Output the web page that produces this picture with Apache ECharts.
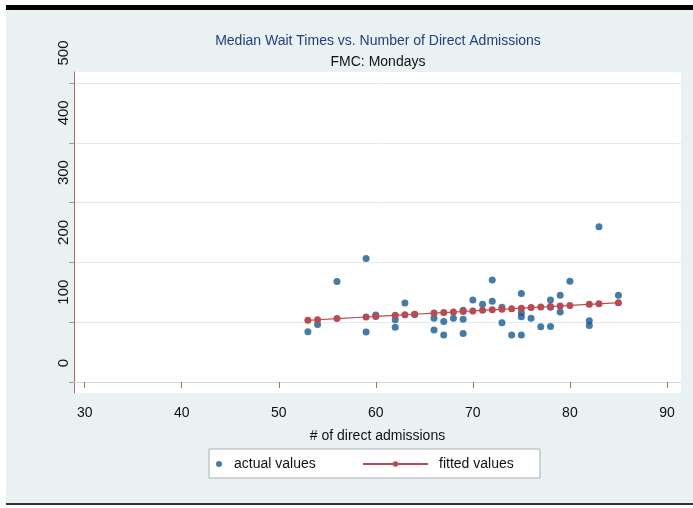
<!DOCTYPE html>
<html>
<head>
<meta charset="utf-8">
<script src="https://cdn.jsdelivr.net/npm/echarts@6/dist/echarts.min.js"></script>
<style>html,body{margin:0;padding:0;background:#fff}#c{width:693px;height:508px}</style>
</head>
<body>
<div id="c"></div>
<script>
// ---- data ----
const xTicks = [30, 40, 50, 60, 70, 80, 90];
const yTicks = [0, 100, 200, 300, 400, 500];

const actualX = [53, 54, 56, 59, 59, 60, 62, 62, 63, 64, 66, 66, 67, 67, 68, 69, 69, 69, 70, 71,
                 72, 72, 73, 73, 74, 75, 75, 75, 75, 76, 77, 78, 78, 78, 79, 79, 80, 82, 82, 83, 85];
const actualY = [84, 96, 168, 206.5, 83.5, 112, 104, 91.5, 132, 113, 106.5, 87, 101, 78.6, 106.5, 120, 105, 81, 137, 130,
                 170.6, 135, 125, 99, 78.6, 148, 116, 109, 78.6, 106.5, 92.5, 137, 125, 93, 145, 117, 168.5, 102.5, 94.5, 259.7, 145];

const fitX = [53, 54, 56, 59, 60, 62, 63, 64, 66, 67, 68, 69, 70, 71, 72, 73, 74, 75, 76, 77, 78, 79, 80, 82, 83, 85];
const fitY = [103.2, 104.1, 106, 108.7, 109.6, 111.5, 112.4, 113.3, 115.2, 116.1, 117, 117.9, 118.9, 119.8, 120.7,
              121.6, 122.5, 123.5, 124.4, 125.3, 126.2, 127.1, 128, 129.9, 130.8, 132.6];

const titleText = 'Median Wait Times vs. Number of Direct Admissions';
const subTitleText = 'FMC: Mondays';
const xName = '# of direct admissions';
const seriesNames = ['actual values', 'fitted values'];

// ---- chart ----
const FONT = "'Liberation Sans', Arial, sans-serif";
const BLUE = '#175a8e';
const RED = '#b84a52';
const chart = echarts.init(document.getElementById('c'), null, {renderer: 'canvas'});

const actualData = actualX.map((x, i) => [x, actualY[i]]);
const fitData = fitX.map((x, i) => [x, fitY[i]]);

chart.setOption({
  backgroundColor: '#ffffff',
  animation: false,
  graphic: [
    {type: 'rect', z: -10, shape: {x: 6, y: 10, width: 687, height: 493}, style: {fill: '#e9f1f3'}},
    {type: 'rect', z: -9, shape: {x: 6, y: 5, width: 687, height: 5}, style: {fill: '#000'}},
    {type: 'rect', z: -9, shape: {x: 6, y: 503, width: 687, height: 2}, style: {fill: '#333'}},
    {type: 'rect', z: 1, shape: {x: 209, y: 449, width: 331, height: 29},
     style: {fill: '#fff', stroke: '#a9b0b3', lineWidth: 1}}
  ],
  title: [
    {text: titleText, left: 378, top: 34, textAlign: 'center', padding: 0,
     textStyle: {fontFamily: FONT, fontSize: 14, fontWeight: 'normal', color: '#22407a'}},
    {text: subTitleText, left: 378, top: 55, textAlign: 'center', padding: 0,
     textStyle: {fontFamily: FONT, fontSize: 14, fontWeight: 'normal', color: '#111'}}
  ],
  legend: [
    {data: [seriesNames[0]], left: 216, top: 457, padding: 0, itemWidth: 20, itemHeight: 6,
     textStyle: {fontFamily: FONT, fontSize: 14, color: '#111'}, z: 5},
    {data: [seriesNames[1]], left: 362, top: 457, padding: 0, itemWidth: 65, itemHeight: 7,
     textStyle: {fontFamily: FONT, fontSize: 14, color: '#111', padding: [0, 0, 0, 6]}, z: 5}
  ],
  grid: {left: 74, top: 72, right: 12, bottom: 115, show: true, backgroundColor: '#fff', borderWidth: 0,
         containLabel: false},
  xAxis: {
    type: 'value', min: 28.9, max: 91.45,
    name: xName, nameLocation: 'middle', nameGap: 36,
    nameTextStyle: {fontFamily: FONT, fontSize: 14, color: '#111'},
    axisLine: {show: true, lineStyle: {color: '#d3d9dc', width: 1}},
    axisTick: {show: true, customValues: xTicks, length: 6, lineStyle: {color: '#b06a6e'}},
    axisLabel: {customValues: xTicks, margin: 13, fontFamily: FONT, fontSize: 14, color: '#111'},
    splitLine: {show: false}
  },
  yAxis: {
    type: 'value', min: -18.4, max: 518.4,
    axisLine: {show: true, lineStyle: {color: '#b5666a', width: 1}},
    axisTick: {show: true, customValues: yTicks, length: 5, lineStyle: {color: '#9a9a9a'}},
    axisLabel: {
      customValues: yTicks, rotate: 90, margin: 3, fontFamily: FONT, fontSize: 15, color: '#111',
      formatter: v => v === 0 ? '{z|0}' : '{s|' + v + '}',
      rich: {
        s: {fontFamily: FONT, fontSize: 15, color: '#111', padding: [0, 0, 0, 60]},
        z: {fontFamily: FONT, fontSize: 15, color: '#111', padding: [0, 0, 0, 38]}
      }
    },
    splitLine: {show: true, lineStyle: {color: '#e4eaec', width: 1}}
  },
  series: [
    {name: seriesNames[0], type: 'scatter', data: actualData, symbol: 'circle', symbolSize: 7,
     itemStyle: {color: BLUE}, z: 2},
    {name: seriesNames[1], type: 'line', data: fitData, symbol: 'circle', symbolSize: 7, showSymbol: true,
     itemStyle: {color: RED}, lineStyle: {color: RED, width: 1.2}, z: 3}
  ]
});
</script>
</body>
</html>
